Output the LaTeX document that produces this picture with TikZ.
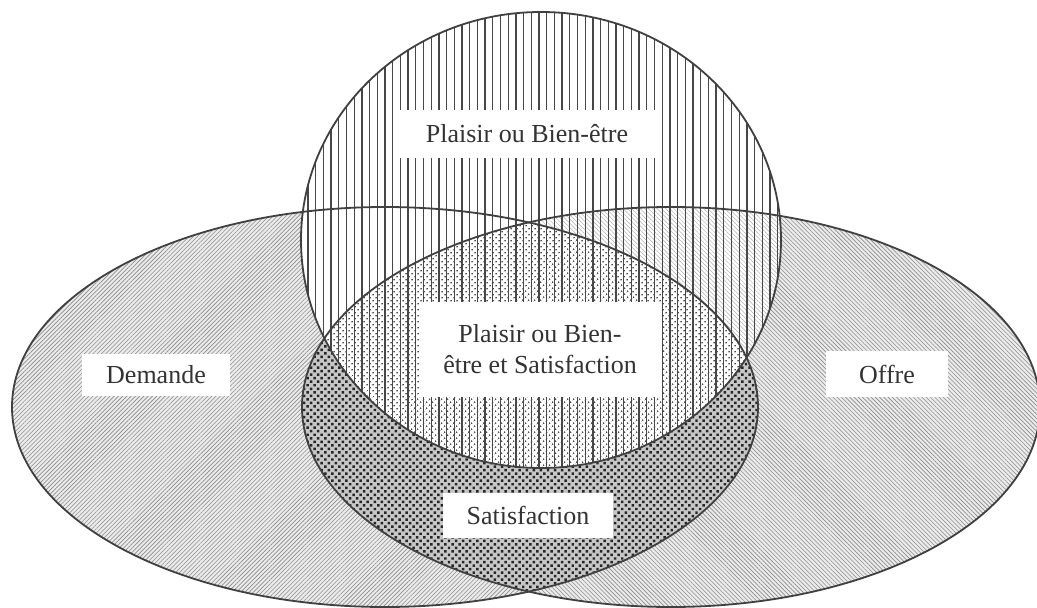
\documentclass[tikz,border=0pt]{standalone}
\usepackage{fontspec}
\setmainfont{Liberation Serif}
\usetikzlibrary{patterns.meta}
\tikzset{
  outline/.style={draw=black!75, line width=1.8pt},
  lbl/.style={fill=white, inner sep=0pt, font=\fontsize{26}{31}\selectfont, text=black!80, align=center},
  demhatch/.style={pattern={Lines[angle=45,distance=3pt,line width=0.6pt]}, pattern color=black!45},
  offhatch/.style={pattern={Lines[angle=-45,distance=3pt,line width=0.6pt]}, pattern color=black!45},
  satdots/.style={pattern={Dots[angle=45,distance=5pt,radius=1.75pt]}, pattern color=black!85},
  plaisirlines/.style={pattern={Lines[angle=90,distance=7.7pt,line width=1.3pt]}, pattern color=black!72},
  faintdots/.style={pattern={Dots[angle=45,distance=4pt,radius=0.95pt]}, pattern color=black!70},
}
\newcommand{\demEll}{(385,407) ellipse [x radius=373pt, y radius=200pt]}
\newcommand{\offEll}{(671,407) ellipse [x radius=369pt, y radius=200pt]}
\newcommand{\plaEll}{(541,240) ellipse [x radius=240pt, y radius=228pt]}
\begin{document}
\begin{tikzpicture}[x=1pt,y=-1pt]
\useasboundingbox (0,0) rectangle (1037,608);
% Demande and Offre
\fill[black!8] \demEll;
\fill[demhatch] \demEll;
\fill[black!8] \offEll;
\fill[offhatch] \offEll;
% Satisfaction = intersection
\begin{scope}
  \clip \demEll;
  \fill[black!22] \offEll;
  \fill[satdots] \offEll;
\end{scope}
% Plaisir circle
\begin{scope}
  \clip \plaEll;
  \fill[white] \plaEll;
  \fill[pattern={Lines[angle=-45,distance=3pt,line width=0.5pt]}, pattern color=black!30] \offEll;
  \begin{scope}
    \clip \demEll;
    \fill[white] \offEll;
    \fill[faintdots] \offEll;
  \end{scope}
  \fill[plaisirlines] \plaEll;
\end{scope}
% outlines
\draw[outline] \demEll;
\draw[outline] \offEll;
\draw[outline] \plaEll;
% labels
\node[lbl, minimum width=258pt, minimum height=48pt] (plaisir) at (527,134) {Plaisir ou Bien-être};
\node[lbl, minimum width=243pt, minimum height=95pt] (both) at (540,349) {Plaisir ou Bien-\\être et Satisfaction};
\node[lbl, minimum width=148pt, minimum height=42pt] (demande) at (156,375) {Demande};
\node[lbl, minimum width=122pt, minimum height=46pt] (offre) at (887,374) {Offre};
\node[lbl, minimum width=170pt, minimum height=45pt] (satis) at (528,515) {Satisfaction};
\end{tikzpicture}
\end{document}
